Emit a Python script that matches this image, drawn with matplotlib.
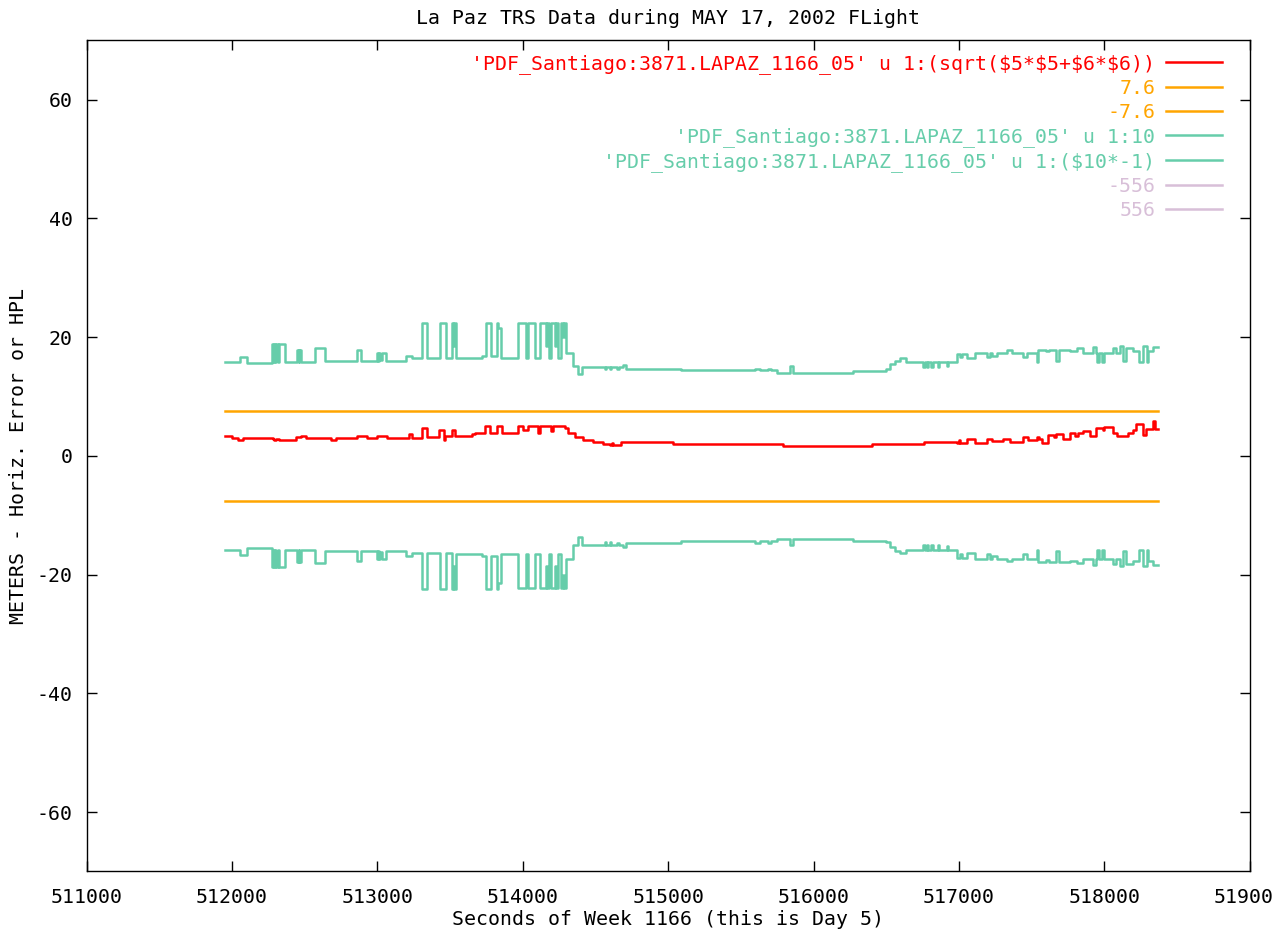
import matplotlib

matplotlib.use("Agg")
import matplotlib.pyplot as plt

# horizontal error (column 5/6 combined), seconds of week -> metres
err_t = [511950, 512003, 512039, 512073, 512279, 512290, 512300, 512325, 512439, 512474,
         512508, 512679, 512714, 512862, 512930, 512999, 513067, 513216, 513239, 513307,
         513341, 513421, 513456, 513467, 513513, 513536, 513650, 513673, 513742, 513776,
         513821, 513855, 513970, 514004, 514038, 514107, 514119, 514194, 514210, 514290,
         514313, 514358, 514415, 514484, 514553, 514598, 514610, 514620, 514678, 515032,
         515790, 516400, 516757, 516985, 517000, 517010, 517053, 517111, 517191, 517225,
         517306, 517351, 517443, 517477, 517534, 517550, 517568, 517614, 517650, 517670,
         517717, 517762, 517800, 517820, 517854, 517899, 517945, 517990, 518000, 518060,
         518090, 518128, 518160, 518197, 518219, 518265, 518288, 518334, 518345, 518370]
err_v = [3.4, 3.0, 2.6, 3.0, 2.8, 2.6, 2.8, 2.7, 3.1, 3.4,
         3.0, 2.6, 3.0, 3.4, 3.0, 3.4, 3.0, 3.6, 3.0, 4.7,
         3.1, 4.3, 2.7, 3.4, 4.4, 3.4, 3.6, 3.8, 5.0, 3.8,
         5.0, 3.8, 5.0, 4.4, 5.0, 3.9, 5.0, 4.1, 5.0, 4.7,
         3.8, 3.1, 2.7, 2.3, 2.0, 1.9, 2.1, 1.9, 2.3, 2.0,
         1.6, 2.0, 2.3, 2.2, 2.6, 2.2, 2.8, 2.1, 2.9, 2.5,
         2.9, 2.4, 3.2, 2.6, 3.2, 2.8, 2.2, 3.5, 3.1, 3.6,
         2.9, 3.8, 3.3, 3.8, 4.2, 3.4, 4.7, 4.3, 4.8, 3.8,
         3.3, 3.3, 3.9, 4.4, 5.3, 3.5, 4.5, 5.8, 4.5, 4.5]

# HPL (column 10)
hpl_t = [511950, 512058, 512100, 512275, 512282, 512287, 512296, 512300, 512315, 512320,
         512365, 512449, 512458, 512462, 512476, 512572, 512640, 512860, 512887, 512997,
         513005, 513010, 513020, 513030, 513059, 513196, 513237, 513305, 513339, 513428,
         513469, 513510, 513520, 513525, 513538, 513716, 513744, 513778, 513819, 513830,
         513853, 513970, 514025, 514039, 514087, 514121, 514160, 514165, 514183, 514197,
         514220, 514225, 514245, 514266, 514275, 514280, 514300, 514348, 514382, 514410,
         514565, 514570, 514600, 514605, 514650, 514660, 514690, 514711, 515090, 515600,
         515628, 515683, 515705, 515750, 515835, 515860, 516270, 516500, 516527, 516562,
         516596, 516637, 516755, 516765, 516780, 516790, 516810, 516820, 516855, 516862,
         516915, 516922, 516985, 517010, 517020, 517053, 517111, 517191, 517210, 517225,
         517260, 517330, 517365, 517443, 517465, 517534, 517545, 517600, 517620, 517670,
         517690, 517762, 517810, 517854, 517925, 517940, 517950, 517965, 517985, 517995,
         518060, 518080, 518110, 518128, 518150, 518200, 518240, 518265, 518290, 518300,
         518334, 518370]
hpl_v = [15.8, 16.7, 15.6, 18.8, 15.8, 18.8, 15.8, 18.8, 15.8, 18.8,
         15.8, 17.9, 15.8, 17.9, 15.8, 18.1, 16.0, 17.8, 16.0, 17.4,
         16.0, 17.4, 16.2, 17.4, 16.0, 16.8, 16.4, 22.4, 16.4, 22.4,
         16.4, 22.4, 18.5, 22.4, 16.5, 16.8, 22.4, 16.8, 22.4, 21.5,
         16.5, 22.3, 16.5, 22.3, 16.5, 22.3, 18.5, 22.3, 16.5, 22.3,
         18.5, 22.3, 16.5, 22.3, 20.0, 22.3, 17.4, 15.1, 13.7, 15.0,
         14.6, 15.0, 14.6, 15.0, 14.7, 15.0, 15.3, 14.7, 14.4, 14.7,
         14.4, 14.7, 14.4, 14.0, 15.1, 14.0, 14.3, 14.6, 15.4, 16.0,
         16.4, 15.8, 15.0, 15.8, 15.0, 15.8, 15.0, 15.8, 15.0, 15.8,
         15.2, 15.8, 17.2, 16.6, 17.2, 16.4, 17.4, 16.6, 17.4, 16.8,
         17.4, 17.8, 17.4, 16.6, 17.4, 15.8, 17.9, 17.6, 17.9, 16.0,
         17.9, 17.7, 18.1, 17.4, 18.4, 17.4, 15.8, 17.4, 15.8, 17.4,
         18.2, 17.4, 18.5, 16.0, 18.2, 17.7, 15.8, 18.5, 15.8, 17.7,
         18.4, 18.4]

limits = [7.6, -7.6]
far_limits = [-556, 556]

RED = "#ff0000"
ORANGE = "#ffa500"
GREEN = "#66cdaa"
LAVENDER = "#d8bfd8"
src = "'PDF_Santiago:3871.LAPAZ_1166_05'"

plt.rcParams["font.family"] = ["DejaVu Sans Mono"]
plt.rcParams["font.size"] = 14.3
plt.rcParams["axes.unicode_minus"] = False

fig = plt.figure(figsize=(12.74, 9.35), dpi=100)
ax = fig.add_axes([0.068, 0.068, 0.913, 0.889])

lw = 1.8
ax.plot(err_t, err_v, drawstyle="steps-post", color=RED, lw=lw,
        label=src + r" u 1:(sqrt(\$5*\$5+\$6*\$6))")
for v in limits:
    ax.plot([err_t[0], err_t[-1]], [v, v], color=ORANGE, lw=lw, label=f"{v}")
ax.plot(hpl_t, hpl_v, drawstyle="steps-post", color=GREEN, lw=lw,
        label=src + " u 1:10")
ax.plot(hpl_t, [-v for v in hpl_v], drawstyle="steps-post", color=GREEN, lw=lw,
        label=src + r" u 1:(\$10*-1)")
for v in far_limits:
    ax.plot([err_t[0], err_t[-1]], [v, v], color=LAVENDER, lw=lw, label=f"{v}")

ax.set_xlim(511000, 519000)
ax.set_ylim(-70, 70)
ax.set_xticks(range(511000, 519001, 1000))
ax.set_yticks(range(-60, 61, 20))
ax.tick_params(direction="in", length=7, width=1, top=True, right=True)
ax.tick_params(axis="x", pad=12)
ax.tick_params(axis="y", pad=10)
for s in ax.spines.values():
    s.set_linewidth(1.0)

ax.set_title("La Paz TRS Data during MAY 17, 2002 FLight", pad=12, fontsize=14.3)
ax.set_xlabel("Seconds of Week 1166 (this is Day 5)", labelpad=2)
ax.set_ylabel("METERS - Horiz. Error or HPL", labelpad=6)

leg = ax.legend(loc="upper right", bbox_to_anchor=(0.988, 1.0), frameon=False,
                markerfirst=False, handlelength=2.8, handletextpad=0.55,
                labelspacing=0.25, labelcolor="linecolor", borderaxespad=0.3)

fig.savefig("out.png", dpi=100)
